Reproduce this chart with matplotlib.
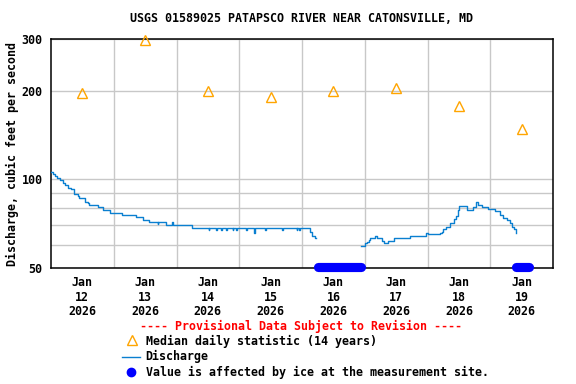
import matplotlib
matplotlib.use("Agg")
import matplotlib.pyplot as plt
import pandas as pd
from matplotlib.lines import Line2D
from matplotlib.ticker import FixedLocator, NullFormatter, FixedFormatter

plt.rcParams['font.family'] = ['DejaVu Sans Mono']
plt.rcParams['font.weight'] = 'bold'
FS = 8.4

title = "USGS 01589025 PATAPSCO RIVER NEAR CATONSVILLE, MD"
ylabel = "Discharge, cubic feet per second"
start = pd.Timestamp("2026-01-12 00:00")

# Discharge (hours since Jan 12 00:00, cfs) -- two segments separated by an ice gap
q1_hours = [0, 0.75, 1.5, 2.25, 3.5, 4.75, 5.5, 6.5, 7.5, 8.75, 10.25, 10.75, 13, 14, 14.5,
            18, 20, 22.5, 27, 32.5, 35.25, 37.5, 40.75, 41, 44, 46.25, 46.5, 54,
            60.25, 60.5, 63.25, 63.5, 65, 65.25, 67, 67.25, 69.5, 69.75, 70.75, 71,
            74.75, 75, 77.75, 78, 82, 82.25, 88.5, 88.75, 94, 94.25, 95, 95.25,
            99, 100, 101, 101.5]
q1_values = [106, 104.5, 102.5, 101.5, 99.5, 97.5, 95.5, 93.5, 92.5, 89.5, 88, 86.5, 84, 83, 82,
             80.5, 78.5, 77, 75.5, 74.5, 73, 71.5, 70.5, 71.5, 70, 71.5, 70, 68.5,
             67.5, 68.5, 67.5, 68.5, 67.5, 68.5, 67.5, 68.5, 67.5, 68.5, 67.5, 68.5,
             67.5, 68.5, 66, 68.5, 67.5, 68.5, 67.5, 68.5, 67.5, 68.5, 67.5, 68.5,
             66.3, 64.3, 63, 63]
q2_hours = [118.5, 120, 120.75, 121.5, 122, 124, 124.5, 126.5, 127.5, 129, 131.25, 137.25,
            143.5, 144, 148.75, 149.5, 150, 151, 152.5, 154, 154.75, 155.5, 156, 159,
            161.5, 162.5, 163.25, 164.75, 167.25, 169.75, 171.75, 173, 174.25, 175.5,
            176.5, 177, 177.75, 178]
q2_values = [59.4, 60.6, 61.4, 62.3, 63, 64.4, 63, 61.8, 61, 61.6, 63, 64.4,
             65.7, 65.2, 65.6, 66.5, 67.8, 68.9, 71.1, 73.5, 74.9, 78.6, 81.5, 78.6,
             80.8, 84, 81.8, 80.8, 79.3, 78, 75.8, 74, 72.9, 71.1,
             69.1, 67.8, 65.6, 65.6]

# Median daily statistic (14 years), one per day at noon
median_days = [12, 13, 14, 15, 16, 17, 18, 19]
median_values = [197, 298, 200, 191, 200, 204, 178, 148]

# Ice-affected periods (hours since Jan 12 00:00)
ice_periods = [(102.3, 118.4), (177.9, 182.8)]
ice_level = 50.5

tick_month = ["Jan"] * 8
tick_day = ["12", "13", "14", "15", "16", "17", "18", "19"]
tick_year = ["2026"] * 8

blue = "#0A7FD0"
orange = "#FFA500"

fig = plt.figure(figsize=(5.76, 3.84), dpi=100)
ax = fig.add_axes([51/576, 1-268/384, (553-51)/576, (268-39)/384])

def to_t(hours):
    return start + pd.to_timedelta(hours, unit="h")

ax.plot(to_t(q1_hours), q1_values, color=blue, lw=1.0, drawstyle="steps-post", zorder=3)
ax.plot(to_t(q2_hours), q2_values, color=blue, lw=1.0, drawstyle="steps-post", zorder=3)

med_t = [pd.Timestamp(2026, 1, d, 12) for d in median_days]
ax.plot(med_t, median_values, linestyle="none", marker="^", markersize=7.3,
        markerfacecolor="none", markeredgecolor=orange, markeredgewidth=1.0,
        clip_on=False, zorder=4)

for a, b in ice_periods:
    ax.plot(to_t([a, b]), [ice_level, ice_level], color="#0000FF", lw=6.6,
            solid_capstyle="round", clip_on=False, zorder=5)

ax.set_yscale("log")
ax.set_ylim(50, 300)
ax.set_xlim(start, start + pd.Timedelta(days=8))

ax.yaxis.set_major_locator(FixedLocator([50, 100, 200, 300]))
ax.yaxis.set_major_formatter(FixedFormatter(["50", "100", "200", "300"]))
ax.yaxis.set_minor_locator(FixedLocator([60, 70, 80, 90]))
ax.yaxis.set_minor_formatter(NullFormatter())

major_t = [pd.Timestamp(2026, 1, int(d), 12) for d in tick_day]
minor_t = [pd.Timestamp(2026, 1, int(d), 0) for d in tick_day[1:]]
ax.set_xticks(major_t)
ax.set_xticklabels([f"{m}\n{d}\n{y}" for m, d, y in zip(tick_month, tick_day, tick_year)],
                   fontsize=FS, fontweight="bold", linespacing=1.15)
ax.set_xticks(minor_t, minor=True)
ax.tick_params(axis="x", which="both", length=0, pad=6)
ax.tick_params(axis="y", which="both", length=0, pad=6, labelsize=FS)
for lab in ax.get_yticklabels():
    lab.set_fontweight("bold")

ax.grid(which="minor", axis="x", color="#C8C8C8", lw=1.0)
ax.grid(which="both", axis="y", color="#C8C8C8", lw=1.0)
ax.set_axisbelow(True)
for s in ax.spines.values():
    s.set_color("black")
    s.set_linewidth(1.1)

fig.text(302/576, 1-18/384, title, ha="center", va="center", fontsize=FS, fontweight="bold")
fig.text(12/576, 1-154/384, ylabel, ha="center", va="center", rotation=90,
         fontsize=FS, fontweight="bold")

# Legend
fig.text(301.5/576, 1-326.7/384, "---- Provisional Data Subject to Revision ----",
         ha="center", va="center", color="red", fontsize=FS, fontweight="bold")
fig.add_artist(Line2D([131.7/576], [1-340/384], transform=fig.transFigure, marker="^",
                      markersize=7.3, markerfacecolor="none", markeredgecolor=orange,
                      markeredgewidth=1.0, linestyle="none"))
fig.add_artist(Line2D([122/576, 139.5/576], [1-356.7/384]*2, transform=fig.transFigure,
                      color=blue, lw=1.0))
fig.add_artist(Line2D([131/576], [1-372.3/384], transform=fig.transFigure, marker="o",
                      markersize=6, markerfacecolor="#0000FF", markeredgecolor="#0000FF",
                      linestyle="none"))
tx = 145.7/576
fig.text(tx, 1-341/384, "Median daily statistic (14 years)", ha="left", va="center",
         fontsize=FS, fontweight="bold")
fig.text(tx, 1-356.7/384, "Discharge", ha="left", va="center", fontsize=FS, fontweight="bold")
fig.text(tx, 1-372.3/384, "Value is affected by ice at the measurement site.", ha="left",
         va="center", fontsize=FS, fontweight="bold")

fig.savefig("out.png", dpi=100)
